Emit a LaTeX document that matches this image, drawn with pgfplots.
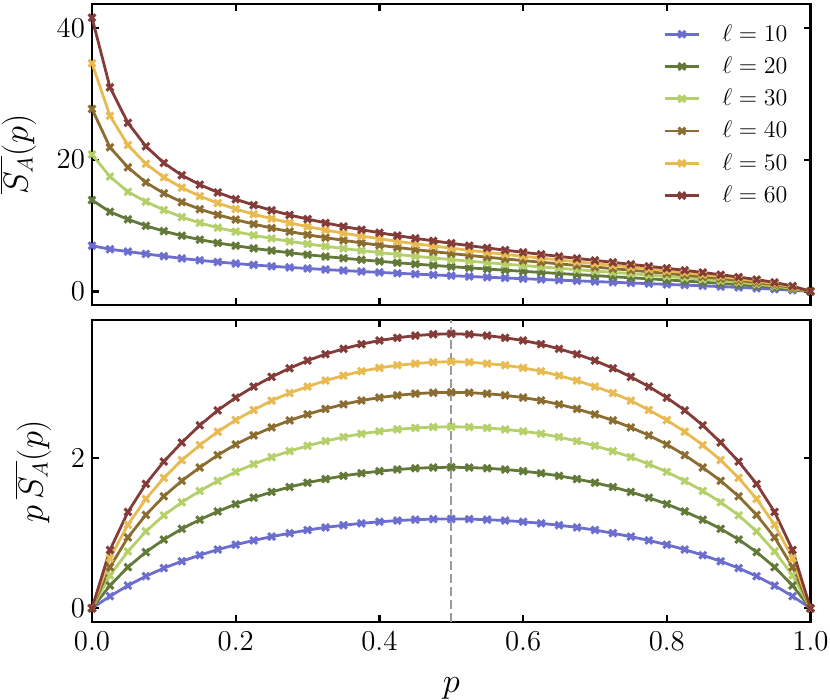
\documentclass[border=0pt]{standalone}
\usepackage{pgfplots}
\usepackage{pgfplotstable}
\pgfplotsset{compat=1.18}
\definecolor{cA}{HTML}{6B6ECF}
\definecolor{cB}{HTML}{637939}
\definecolor{cC}{HTML}{B5CF6B}
\definecolor{cD}{HTML}{8C6D31}
\definecolor{cE}{HTML}{E7BA52}
\definecolor{cF}{HTML}{843C39}
\definecolor{dashgray}{HTML}{9A9A9A}

\pgfplotstableread{
p S f
0 6.931 0
0.025 6.400 0.160
0.05 6.040 0.302
0.075 5.680 0.426
0.1 5.340 0.534
0.125 5.000 0.625
0.15 4.707 0.706
0.175 4.457 0.780
0.2 4.225 0.845
0.225 4.009 0.902
0.25 3.808 0.952
0.275 3.629 0.998
0.3 3.467 1.040
0.325 3.308 1.075
0.35 3.154 1.104
0.375 3.011 1.129
0.4 2.875 1.150
0.425 2.744 1.166
0.45 2.618 1.178
0.475 2.495 1.185
0.5 2.374 1.187
0.525 2.257 1.185
0.55 2.142 1.178
0.575 2.028 1.166
0.6 1.917 1.150
0.625 1.806 1.129
0.65 1.698 1.104
0.675 1.593 1.075
0.7 1.486 1.040
0.725 1.377 0.998
0.75 1.269 0.952
0.775 1.164 0.902
0.8 1.056 0.845
0.825 0.945 0.780
0.85 0.831 0.706
0.875 0.714 0.625
0.9 0.593 0.534
0.925 0.461 0.426
0.95 0.318 0.302
0.975 0.164 0.160
1 0 0
}\tabA

\pgfplotstableread{
p S f
0 13.863 0
0.025 12.080 0.302
0.05 10.940 0.547
0.075 9.960 0.747
0.1 9.140 0.914
0.125 8.448 1.056
0.15 7.853 1.178
0.175 7.354 1.287
0.2 6.925 1.385
0.225 6.533 1.470
0.25 6.184 1.546
0.275 5.862 1.612
0.3 5.563 1.669
0.325 5.286 1.718
0.35 5.029 1.760
0.375 4.787 1.795
0.4 4.558 1.823
0.425 4.341 1.845
0.45 4.136 1.861
0.475 3.939 1.871
0.5 3.750 1.875
0.525 3.564 1.871
0.55 3.384 1.861
0.575 3.209 1.845
0.6 3.038 1.823
0.625 2.872 1.795
0.65 2.708 1.760
0.675 2.545 1.718
0.7 2.384 1.669
0.725 2.223 1.612
0.75 2.061 1.546
0.775 1.897 1.470
0.8 1.731 1.385
0.825 1.560 1.287
0.85 1.386 1.178
0.875 1.207 1.056
0.9 1.016 0.914
0.925 0.808 0.747
0.95 0.576 0.547
0.975 0.310 0.302
1 0 0
}\tabB

\pgfplotstableread{
p S f
0 20.794 0
0.025 17.440 0.436
0.05 15.120 0.756
0.075 13.627 1.022
0.1 12.360 1.236
0.125 11.272 1.409
0.15 10.400 1.560
0.175 9.674 1.693
0.2 9.065 1.813
0.225 8.516 1.916
0.25 8.036 2.009
0.275 7.596 2.089
0.3 7.200 2.160
0.325 6.837 2.222
0.35 6.503 2.276
0.375 6.187 2.320
0.4 5.883 2.353
0.425 5.595 2.378
0.45 5.329 2.398
0.475 5.072 2.409
0.5 4.826 2.413
0.525 4.589 2.409
0.55 4.360 2.398
0.575 4.136 2.378
0.6 3.922 2.353
0.625 3.712 2.320
0.65 3.502 2.276
0.675 3.292 2.222
0.7 3.086 2.160
0.725 2.881 2.089
0.75 2.679 2.009
0.775 2.472 1.916
0.8 2.266 1.813
0.825 2.052 1.693
0.85 1.835 1.560
0.875 1.610 1.409
0.9 1.373 1.236
0.925 1.105 1.022
0.95 0.796 0.756
0.975 0.447 0.436
1 0 0
}\tabC

\pgfplotstableread{
p S f
0 27.726 0
0.025 21.880 0.547
0.05 18.840 0.942
0.075 16.547 1.241
0.1 14.890 1.489
0.125 13.552 1.694
0.15 12.480 1.872
0.175 11.634 2.036
0.2 10.890 2.178
0.225 10.218 2.299
0.25 9.616 2.404
0.275 9.080 2.497
0.3 8.593 2.578
0.325 8.154 2.650
0.35 7.746 2.711
0.375 7.365 2.762
0.4 7.003 2.801
0.425 6.661 2.831
0.45 6.340 2.853
0.475 6.034 2.866
0.5 5.742 2.871
0.525 5.459 2.866
0.55 5.187 2.853
0.575 4.923 2.831
0.6 4.668 2.801
0.625 4.419 2.762
0.65 4.171 2.711
0.675 3.926 2.650
0.7 3.683 2.578
0.725 3.444 2.497
0.75 3.205 2.404
0.775 2.966 2.299
0.8 2.723 2.178
0.825 2.468 2.036
0.85 2.202 1.872
0.875 1.936 1.694
0.9 1.654 1.489
0.925 1.342 1.241
0.95 0.992 0.942
0.975 0.561 0.547
1 0 0
}\tabD

\pgfplotstableread{
p S f
0 34.657 0
0.025 26.680 0.667
0.05 22.220 1.111
0.075 19.373 1.453
0.1 17.330 1.733
0.125 15.752 1.969
0.15 14.460 2.169
0.175 13.411 2.347
0.2 12.510 2.502
0.225 11.716 2.636
0.25 11.040 2.760
0.275 10.407 2.862
0.3 9.823 2.947
0.325 9.314 3.027
0.35 8.837 3.093
0.375 8.403 3.151
0.4 7.990 3.196
0.425 7.602 3.231
0.45 7.229 3.253
0.475 6.886 3.271
0.5 6.560 3.280
0.525 6.230 3.271
0.55 5.915 3.253
0.575 5.619 3.231
0.6 5.327 3.196
0.625 5.042 3.151
0.65 4.758 3.093
0.675 4.484 3.027
0.7 4.210 2.947
0.725 3.948 2.862
0.75 3.680 2.760
0.775 3.401 2.636
0.8 3.128 2.502
0.825 2.845 2.347
0.85 2.552 2.169
0.875 2.250 1.969
0.9 1.926 1.733
0.925 1.571 1.453
0.95 1.169 1.111
0.975 0.684 0.667
1 0 0
}\tabE

\pgfplotstableread{
p S f
0 41.589 0
0.025 31.000 0.775
0.05 25.600 1.280
0.075 22.040 1.653
0.1 19.510 1.951
0.125 17.632 2.204
0.15 16.213 2.432
0.175 15.034 2.631
0.2 14.000 2.800
0.225 13.098 2.947
0.25 12.304 3.076
0.275 11.604 3.191
0.3 10.977 3.293
0.325 10.394 3.378
0.35 9.854 3.449
0.375 9.363 3.511
0.4 8.900 3.560
0.425 8.461 3.596
0.45 8.056 3.625
0.475 7.667 3.642
0.5 7.300 3.650
0.525 6.937 3.642
0.55 6.591 3.625
0.575 6.254 3.596
0.6 5.933 3.560
0.625 5.618 3.511
0.65 5.306 3.449
0.675 5.004 3.378
0.7 4.704 3.293
0.725 4.401 3.191
0.75 4.101 3.076
0.775 3.803 2.947
0.8 3.500 2.800
0.825 3.189 2.631
0.85 2.861 2.432
0.875 2.519 2.204
0.9 2.168 1.951
0.925 1.787 1.653
0.95 1.347 1.280
0.975 0.795 0.775
1 0 0
}\tabF

\newcommand{\tf}{\fontsize{15}{18}\selectfont}
\newcommand{\lf}{\fontsize{16}{19}\selectfont}
\newcommand{\gf}{\fontsize{13}{16}\selectfont}

\pgfplotsset{
  panel/.style={
    scale only axis,
    width=359.25pt,
    xmin=0, xmax=1,
    xtick={0,0.2,0.4,0.6,0.8,1},
    minor tick num=0,
    tick align=inside,
    major tick length=3.5pt,
    every tick/.style={black, line width=1.2pt},
    axis line style={line width=1.3pt},
    tick label style={font=\tf},
    xticklabel style={yshift=-1.5pt, /pgf/number format/.cd, fixed, fixed zerofill, precision=1},
    yticklabel style={/pgf/number format/.cd, fixed, precision=0},
    scaled ticks=false,
    every axis plot/.append style={line width=1.4pt, mark=x, mark size=2.4pt,
      mark options={solid, line width=1.5pt}},
  },
}

\begin{document}
\begin{tikzpicture}
\begin{axis}[panel,
  name=bot,
  at={(0,0)}, anchor=south west,
  height=151pt,
  ymin=-0.1825, ymax=3.8325,
  ytick={0,2},
]
\addplot[cA] table[x=p, y=f] {\tabA};
\addplot[cB] table[x=p, y=f] {\tabB};
\addplot[cC] table[x=p, y=f] {\tabC};
\addplot[cD] table[x=p, y=f] {\tabD};
\addplot[cE] table[x=p, y=f] {\tabE};
\addplot[cF] table[x=p, y=f] {\tabF};
\addplot[dashgray, line width=1.1pt, mark=none, dash pattern=on 4.5pt off 2pt, forget plot] coordinates {(0.5,-0.1825) (0.5,3.8325)};
\end{axis}

\begin{axis}[panel,
  name=top,
  at={(0,158.5pt)}, anchor=south west,
  height=150.5pt,
  ymin=-2.079, ymax=43.668,
  ytick={0,20,40},
  xticklabels={},
  legend cell align=left,
  legend style={draw=none, fill=none, font=\gf,
    at={(axis description cs:0.7864,1)}, anchor=north west, yshift=-6pt,
    row sep=2.3pt, column sep=9pt},
]
\addplot[cA] table[x=p, y=S] {\tabA};
\addlegendentry{$\ell = 10$}
\addplot[cB] table[x=p, y=S] {\tabB};
\addlegendentry{$\ell = 20$}
\addplot[cC] table[x=p, y=S] {\tabC};
\addlegendentry{$\ell = 30$}
\addplot[cD] table[x=p, y=S] {\tabD};
\addlegendentry{$\ell = 40$}
\addplot[cE] table[x=p, y=S] {\tabE};
\addlegendentry{$\ell = 50$}
\addplot[cF] table[x=p, y=S] {\tabF};
\addlegendentry{$\ell = 60$}
\end{axis}
\node[rotate=90, inner sep=0pt, anchor=center, font=\lf] at ([xshift=-37pt]top.west) {$\overline{S_A}(p)$};
\node[rotate=90, inner sep=0pt, anchor=center, font=\lf] at ([xshift=-29.5pt]bot.west) {$p\,\overline{S_A}(p)$};
\node[inner sep=0pt, anchor=center, font=\lf] at ([yshift=-33pt]bot.south) {$p$};
\pgfresetboundingbox
\path[use as bounding box] (-46pt,-39pt) rectangle (369pt,311pt);
\end{tikzpicture}
\end{document}
